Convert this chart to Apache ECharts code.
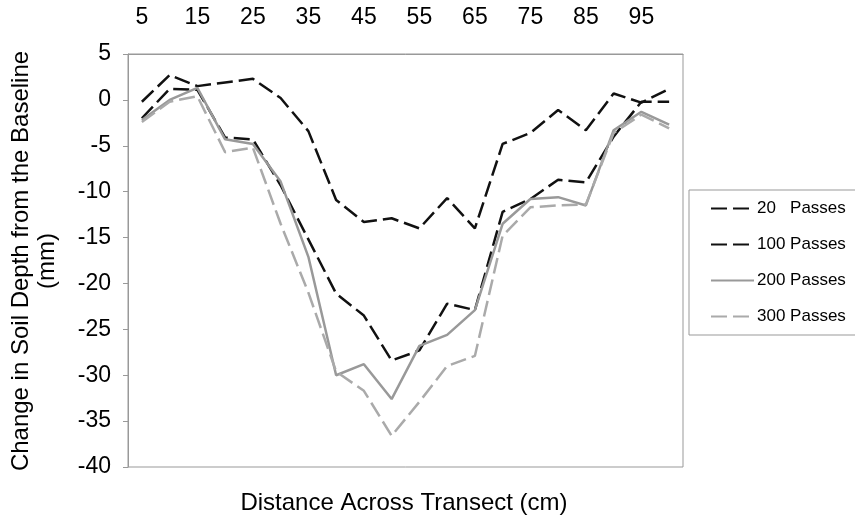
<!DOCTYPE html>
<html>
<head>
<meta charset="utf-8">
<script src="https://cdn.jsdelivr.net/npm/echarts@6/dist/echarts.min.js"></script>
<style>
  html, body { margin: 0; padding: 0; background: #fff; }
  #chart { width: 855px; height: 522px; }
</style>
</head>
<body>
<div id="chart"></div>
<script>
// distance across transect (cm)
const distances = ['5', '10', '15', '20', '25', '30', '35', '40', '45', '50',
  '55', '60', '65', '70', '75', '80', '85', '90', '95', '100'];
// change in soil depth (mm)
const passes20 = [-0.2, 2.7, 1.5, 1.9, 2.3, 0.2, -3.4, -10.9, -13.3, -12.9,
  -14.0, -10.7, -14.0, -4.8, -3.6, -1.1, -3.3, 0.7, -0.3, 1.2];
const passes100 = [-2.0, 1.2, 1.1, -4.1, -4.3, -9.3, -15.2, -21.1, -23.5, -28.4,
  -27.3, -22.2, -22.9, -12.2, -10.8, -8.7, -9.0, -4.0, -0.2, -0.2];
const passes200 = [-2.2, 0.0, 1.3, -4.3, -4.8, -8.9, -17.1, -30.0, -28.8, -32.6,
  -26.8, -25.6, -22.9, -13.5, -10.8, -10.6, -11.5, -3.3, -1.3, -2.7];
const passes300 = [-2.4, -0.2, 0.4, -5.7, -5.2, -13.5, -21.0, -29.6, -31.7, -36.6,
  -32.9, -29.0, -27.9, -14.8, -11.7, -11.5, -11.4, -3.6, -1.6, -3.1];
const seriesNames = ['20   Passes', '100 Passes', '200 Passes', '300 Passes'];

const font = "'Liberation Sans', Arial, sans-serif";
const axisGrey = '#999';

function lineSeries(name, data, color, type) {
  return {
    name: name,
    type: 'line',
    data: data,
    symbol: 'none',
    lineStyle: { color: color, width: 2.5, type: type },
    itemStyle: { color: color }
  };
}

const myChart = echarts.init(document.getElementById('chart'));
myChart.setOption({
  animation: false,
  backgroundColor: '#fff',
  textStyle: { fontFamily: font },
  grid: {
    left: 128,
    right: 172,
    top: 54,
    bottom: 55,
    outerBoundsMode: 'none',
    show: true,
    borderColor: axisGrey,
    borderWidth: 1
  },
  legend: {
    orient: 'vertical',
    left: 689,
    top: 190,
    padding: [10, 40, 10, 21],
    borderColor: axisGrey,
    borderWidth: 1,
    itemWidth: 43,
    itemHeight: 16,
    itemGap: 19,
    itemStyle: { opacity: 0 },
    textStyle: { fontSize: 17, color: '#000', fontFamily: font, padding: [0, 0, 0, -2] },
    data: seriesNames
  },
  xAxis: {
    type: 'category',
    position: 'top',
    data: distances,
    boundaryGap: true,
    axisLine: { onZero: false, lineStyle: { color: axisGrey } },
    axisTick: { inside: true, interval: 0, length: 5, lineStyle: { color: axisGrey } },
    axisLabel: { interval: 1, fontSize: 23, color: '#000', margin: 25 },
    splitLine: { show: false }
  },
  yAxis: {
    type: 'value',
    min: -40,
    max: 5,
    interval: 5,
    axisLine: { show: true, lineStyle: { color: axisGrey } },
    axisTick: { show: true, length: 5, lineStyle: { color: axisGrey } },
    axisLabel: { fontSize: 23, color: '#000', margin: 17 },
    splitLine: { show: false }
  },
  graphic: [
    {
      type: 'text',
      x: 34,
      y: 261,
      rotation: Math.PI / 2,
      style: {
        text: 'Change in Soil Depth from the Baseline\n(mm)',
        fontSize: 24,
        fontFamily: font,
        lineHeight: 26,
        fill: '#000',
        align: 'center',
        verticalAlign: 'middle'
      }
    },
    {
      type: 'text',
      x: 404,
      y: 503,
      style: {
        text: 'Distance Across Transect (cm)',
        fontSize: 24,
        fontFamily: font,
        fill: '#000',
        align: 'center',
        verticalAlign: 'middle'
      }
    }
  ],
  series: [
    lineSeries(seriesNames[0], passes20, '#111', [16, 6]),
    lineSeries(seriesNames[1], passes100, '#111', [16, 6]),
    lineSeries(seriesNames[2], passes200, '#999', 'solid'),
    lineSeries(seriesNames[3], passes300, '#aaa', [16, 6])
  ]
});
</script>
</body>
</html>
